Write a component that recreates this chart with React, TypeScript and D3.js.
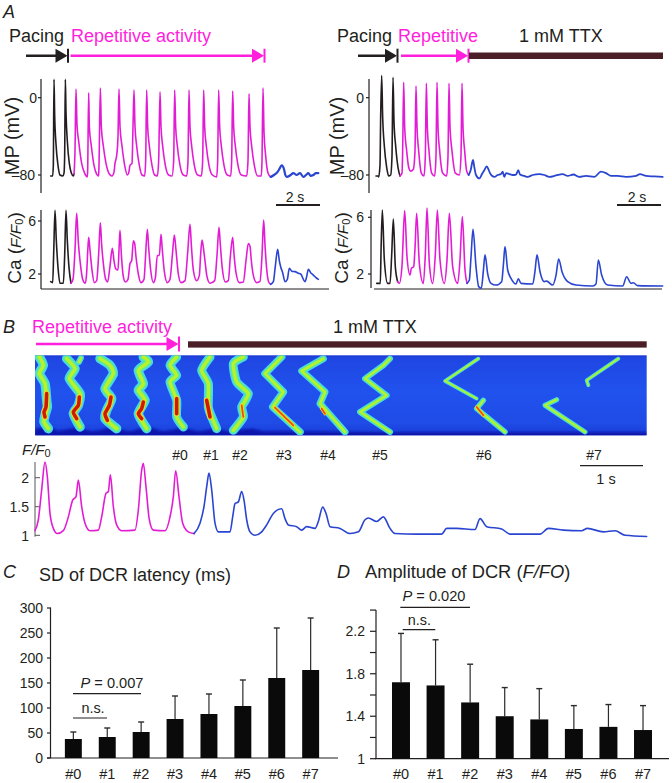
import React from "react";
import * as d3 from "d3";

type P = [number, number];

// ---------- Panel A, left (t in scan lines, 66 lines = 1 s; mV)
const mpLeftBlack: P[] = [[2,-81],[8,-81],[10,-70],[12,19],[14,-18],[18,-48],[24,-70],[30,-80],[38,-81],[42,-78],[44,-60],[46,19],[48,-15],[52,-45],[58,-68],[64,-78],[70,-81],[72,-79]];
const mpLeftMagenta: P[] = [[72,-79],[75,-55],[78,9],[81,-28],[86,-45],[95,-68],[105,-79],[112,-82],[113,-75],[116,5],[118,-30],[124,-50],[132,-70],[140,-79],[146,-81],[147,-70],[151,10],[154,-30],[160,-50],[168,-68],[178,-79],[186,-81],[192,-77],[195,-68],[200,-60],[204,-40],[207,9],[210,-30],[216,-50],[224,-70],[232,-80],[236,-78],[240,-70],[246,-68],[249,-30],[252,8],[255,-30],[260,-50],[268,-70],[276,-80],[284,-81],[287,-65],[290,8],[293,-30],[298,-50],[306,-70],[314,-80],[322,-81],[326,-65],[330,6],[333,-30],[338,-50],[346,-70],[356,-80],[366,-81],[371,-65],[374,8],[377,-30],[382,-50],[390,-70],[400,-80],[410,-81],[414,-65],[417,8],[420,-30],[425,-50],[433,-70],[443,-80],[454,-81],[458,-65],[461,8],[464,-30],[469,-50],[477,-70],[487,-80],[500,-82],[503,-65],[506,8],[509,-30],[514,-50],[522,-70],[532,-80],[542,-81],[545,-65],[548,7],[551,-30],[556,-50],[564,-70],[574,-80],[590,-81],[594,-65],[597,4],[600,-30],[605,-50],[613,-70],[623,-81],[634,-81],[636,-65],[639,10],[642,-35],[647,-60],[654,-78],[662,-82]];
const mpLeftBlue: P[] = [[662,-82],[672,-80],[680,-78],[688,-74],[695,-70],[702,-74],[706,-80],[710,-82],[722,-80],[730,-78],[740,-80],[750,-78],[760,-82],[768,-80],[775,-78],[782,-81],[790,-80],[798,-78],[805,-78]];

const caLeftBlack: P[] = [[2,1.42],[8,1.35],[11,3.5],[15,6.8],[19,4.5],[24,2.5],[30,1.3],[40,1.3],[44,3.4],[48,6.8],[52,4.5],[57,2.5],[63,1.3]];
const caLeftMagenta: P[] = [[63,1.3],[69,1.6],[75,3.8],[80,6.58],[85,4.4],[91,2.8],[98,1.6],[106,1.3],[110,2.1],[113,3.6],[116,4.77],[120,3.8],[126,2.3],[133,1.35],[140,1.5],[146,3.5],[151,5.87],[155,4.2],[160,2.8],[167,1.6],[173,1.4],[180,2.6],[187,3.94],[192,3.0],[197,2.4],[204,2.3],[207,3.8],[210,5.3],[214,3.5],[220,1.8],[226,1.4],[234,1.6],[240,2.8],[245,3.0],[250,4.5],[254,4.3],[258,3.3],[265,2.0],[273,1.35],[282,1.6],[287,3.5],[292,5.37],[296,4.0],[302,2.3],[310,1.35],[316,1.7],[322,3.4],[328,3.4],[333,5.0],[337,3.8],[343,2.2],[352,1.35],[360,1.6],[367,3.4],[373,4.94],[378,3.8],[385,2.0],[393,1.35],[405,1.5],[413,3.6],[420,5.75],[424,4.2],[430,2.3],[440,1.5],[448,1.9],[452,3.5],[456,4.57],[459,4.2],[464,3.2],[471,1.8],[480,1.3],[494,1.5],[501,3.4],[507,5.52],[511,4.2],[517,2.4],[526,1.4],[535,1.5],[541,3.3],[548,4.77],[552,3.5],[558,2.1],[568,1.35],[580,1.4],[588,3.0],[595,4.3],[600,4.1],[604,3.0],[610,1.9],[620,1.35],[630,1.45],[636,3.4],[641,6.07],[645,4.2],[650,2.4],[656,1.4],[662,1.22]];
const caLeftBlue: P[] = [[662,1.22],[670,1.42],[676,2.6],[683,3.86],[688,3.0],[692,2.55],[698,2.1],[705,1.42],[712,1.6],[718,2.43],[726,2.2],[735,2.18],[745,2.05],[752,2.0],[765,1.42],[770,1.8],[775,2.35],[782,2.1],[790,1.92],[797,1.75],[805,1.6]];

// ---------- Panel A, right
const mpRightBlack: P[] = [[0,-81],[6,-81],[8,-82],[12,-70],[14,-20],[17,23],[20,-20],[25,-50],[32,-72],[38,-81],[44,-80],[48,-60],[51,21],[54,-25],[59,-50],[66,-72],[72,-81]];
const mpRightMagenta: P[] = [[72,-81],[78,-78],[80,-55],[83,16],[86,-30],[92,-55],[98,-72],[104,-76],[112,-74],[117,-55],[120,12],[123,-30],[128,-55],[136,-78],[144,-81],[148,-60],[151,15],[154,-30],[159,-55],[167,-78],[176,-81],[180,-60],[183,16],[186,-30],[191,-55],[200,-78],[212,-81],[216,-60],[219,15],[222,-30],[228,-55],[238,-78],[250,-80],[255,-60],[258,15],[261,-30],[266,-55],[272,-76],[278,-80]];
const mpRightBlue: P[] = [[278,-80],[284,-75],[291,-64.5],[295,-72],[300,-80],[310,-83.5],[318,-79],[325,-75],[332,-71],[337,-74],[342,-78],[355,-82],[365,-80],[375,-79],[380,-76.5],[385,-82],[390,-78],[400,-79],[410,-80],[420,-79.5],[427,-75],[432,-79.5],[445,-81],[455,-82],[470,-80],[490,-79],[505,-80],[520,-82],[540,-80.5],[560,-79],[575,-81],[592,-79.5],[610,-82],[630,-81],[655,-82],[675,-76.5],[690,-78],[705,-81],[725,-81],[750,-82],[780,-81],[792,-79],[810,-81],[835,-81.5],[860,-82]];

const caRightBlack: P[] = [[2,1.34],[13,1.34],[15,3.5],[19,6.52],[25,3.0],[35,1.34],[42,1.34],[47,3.3],[52,5.88],[58,2.5],[65,1.46]];
const caRightMagenta: P[] = [[65,1.46],[70,1.34],[78,2.6],[86,6.47],[93,3.22],[102,1.93],[106,2.4],[113,2.52],[117,3.8],[122,6.28],[130,2.75],[142,1.34],[148,3.4],[153,6.66],[160,2.75],[170,1.34],[178,3.4],[184,6.52],[192,2.99],[205,1.34],[213,3.0],[220,6.28],[230,2.52],[245,1.34],[252,3.0],[259,6.05],[267,2.28],[273,1.34]];
const caRightBlue: P[] = [[273,1.34],[280,1.58],[285,3.2],[291,5.15],[300,2.52],[308,1.11],[316,1.0],[322,2.2],[327,3.36],[335,2.03],[345,1.34],[360,1.22],[377,1.46],[382,2.6],[387,3.93],[395,2.28],[405,1.69],[420,1.29],[427,1.67],[435,1.34],[470,1.29],[477,2.2],[483,3.36],[492,2.16],[505,1.46],[512,1.5],[530,1.22],[540,1.9],[548,3.06],[558,2.16],[575,1.46],[600,1.22],[650,1.15],[660,1.3],[667,2.99],[677,1.93],[695,1.22],[740,1.15],[752,1.81],[765,1.34],[772,1.38],[785,1.18],[860,1.15]];

// ---------- Panel B trace (t in lines, 190 lines = 1 s; F/F0)
const fTraceMagenta: P[] = [[0,1.08],[10,1.27],[20,1.79],[30,2.27],[37,2.02],[45,1.38],[55,1.12],[67,1.03],[85,1.08],[100,1.32],[113,1.61],[123,1.67],[130,1.96],[140,1.5],[150,1.21],[165,1.08],[190,1.09],[200,1.32],[213,1.73],[220,1.76],[226,2.05],[235,1.5],[245,1.18],[260,1.08],[300,1.09],[310,1.44],[320,2.13],[325,2.25],[333,1.84],[343,1.27],[355,1.09],[390,1.08],[405,1.32],[415,1.67],[422,2.12],[432,1.67],[443,1.21],[460,1.06],[477,1.03]];
const fTraceBlue: P[] = [[477,1.03],[495,1.21],[507,1.5],[515,1.84],[522,2.08],[530,1.79],[540,1.21],[550,1.06],[585,1.06],[593,1.32],[600,1.55],[610,1.58],[620,1.76],[627,1.61],[635,1.27],[645,1.06],[660,1],[680,1.06],[695,1.18],[715,1.38],[740,1.46],[750,1.29],[760,1.18],[785,1.15],[800,1.09],[815,1.15],[840,1.12],[850,1.24],[863,1.49],[873,1.38],[885,1.15],[915,1.12],[945,1.03],[970,1.06],[990,1.27],[1000,1.3],[1025,1.24],[1045,1.32],[1065,1.12],[1080,1.03],[1145,1.02],[1220,1.02],[1235,1.12],[1265,1.12],[1320,1.1],[1335,1.29],[1355,1.15],[1400,1.11],[1425,1.02],[1515,1.02],[1540,1.12],[1585,1.09],[1640,1.08],[1657,1.12],[1705,1.06],[1740,1.08],[1770,1],[1835,0.98]];

// ---------- Panel B line scan: wave fronts (t in lines, position 0–240)
const waves: P[][] = [
  [[13,5],[25,30],[13,55],[30,85],[35,135],[37,155],[30,180],[27,200],[40,220]],
  [[95,10],[120,40],[103,70],[135,115],[130,150],[115,175],[135,215]],
  [[132,20],[138,8]],
  [[195,10],[225,30],[235,55],[210,100],[230,130],[215,165],[210,190],[245,220]],
  [[325,5],[340,20],[310,45],[325,85],[310,105],[330,135],[310,175],[335,220]],
  [[425,5],[405,30],[425,60],[405,80],[425,135],[425,185],[445,215]],
  [[525,5],[500,45],[520,85],[520,155],[530,185],[545,220]],
  [[625,5],[595,25],[605,80],[640,115],[620,155],[625,185],[595,225]],
  [[740,5],[690,55],[745,110],[713,155],[795,230]],
  [[865,10],[800,47],[870,110],[855,145],[930,230]],
  [[1065,10],[1045,30],[990,70],[1055,120],[975,170],[1065,230]],
  [[1330,10],[1230,77],[1325,130]],
  [[1345,135],[1325,160],[1410,230]],
  [[1565,133],[1530,150],[1650,230]],
  [[1750,10],[1655,75],[1660,90]],
];
const waveWeight = [9.5, 9.5, 6, 9.5, 9.5, 9, 9, 9, 7.5, 7, 6, 3.8, 5.5, 5, 3.8];
const hotSpots: P[][] = [
  [[35,115],[33,155],[27,170],[30,185]],
  [[133,125],[130,150],[115,170],[125,190]],
  [[228,125],[223,150],[210,175],[217,195]],
  [[325,140],[320,160],[310,175],[320,190]],
  [[425,130],[425,175]],
  [[515,135],[525,185]],
  [[620,150],[625,185]],
  [[720,157],[775,210]],
  [[860,160],[870,175]],
  [[1325,155],[1345,180]],
];
const darkBand: P[] = [[0,222],[40,214],[70,226],[130,218],[170,228],[240,216],[280,228],[340,216],[385,228],[445,218],[490,228],[545,220],[580,228],[650,220],[690,228],[760,228],[1100,231],[1835,231]];

// ---------- Panels C, D
const dcrLabels = ["#0","#1","#2","#3","#4","#5","#6","#7"];
const sdMeans = [38,42,52,78,88,104,160,176];
const sdTops = [52,60,72,124,128,156,260,280];
const sdTicks = [0,50,100,150,200,250,300];
const ampMeans = [1.72,1.69,1.53,1.40,1.37,1.28,1.30,1.27];
const ampTops = [2.18,2.12,1.89,1.67,1.66,1.50,1.51,1.50];
const ampMajor = [1,1.4,1.8,2.2];
const ampMinor = [1.2,1.6,2.0,2.4];

const BLK = "#231f20", MAG = "#e21fd4", ARW = "#ff1fdc", BLU = "#2a45d0", TTX = "#4b1f28";
const FONT = "'Liberation Sans', Arial, sans-serif";

const xLeft = d3.scaleLinear().domain([0, 660]).range([50, 270]);
const xRight = d3.scaleLinear().domain([0, 660]).range([376, 596]);
const mpLeftY = d3.scaleLinear().domain([0, -80]).range([97.7, 175]);
const caLeftY = d3.scaleLinear().domain([2, 6]).range([274, 221]);
const caRightY = d3.scaleLinear().domain([2, 6]).range([274, 217.3]);
const xB = d3.scaleLinear().domain([0, 1835]).range([35, 646.7]);
const fY = d3.scaleLinear().domain([1, 2]).range([535.3, 477.7]);
const posY = d3.scaleLinear().domain([0, 240]).range([355.3, 435.3]);
const sdY = d3.scaleLinear().domain([0, 300]).range([758, 608]);
const ampY = d3.scaleLinear().domain([1, 2.2]).range([758.7, 631.3]);
const xC = d3.scaleBand<string>().domain(dcrLabels).range([56.4, 327.6]).paddingInner(0.5).paddingOuter(0.25);
const xD = d3.scaleBand<string>().domain(dcrLabels).range([383.7, 660.3]).paddingInner(0.48).paddingOuter(0.24);

const path = (x: any, y: any, d: P[], curve: any = d3.curveMonotoneX) =>
  d3.line<P>().x(p => x(p[0])).y(p => y(p[1])).curve(curve)(d) || "";
const waveCurve = (i: number) => (i < 8 ? d3.curveCardinal.tension(0.4) : d3.curveLinear);

function Tr({ x, y, d, c, w = 1.6 }: any) {
  return <path d={path(x, y, d)} fill="none" stroke={c} strokeWidth={w} strokeLinejoin="round" strokeLinecap="round" filter="url(#tr)" />;
}
function L({ x1, x2, y1, y2, c = BLK, w = 1.2 }: any) {
  return <line x1={x1} x2={x2} y1={y1} y2={y2} stroke={c} strokeWidth={w} />;
}
function T({ x, y, s = 14, a = "start", c = BLK, it, children, rot }: any) {
  return (
    <text x={x} y={y} fontSize={s} textAnchor={a} fill={c} fontStyle={it ? "italic" : undefined} fontFamily={FONT}
      transform={rot ? `rotate(${rot} ${x} ${y})` : undefined}>{children}</text>
  );
}
function Arrow({ x1, x2, y, c, w = 2.4, tickH = 14 }: any) {
  return (
    <g>
      <line x1={x1} x2={x2 - 6} y1={y} y2={y} stroke={c} strokeWidth={w} />
      <polygon points={`${x2 - 12},${y - 7} ${x2},${y} ${x2 - 12},${y + 7}`} fill={c} />
      <line x1={x2 + 0.5} x2={x2 + 0.5} y1={y - tickH / 2} y2={y + tickH / 2} stroke={c} strokeWidth={2} />
    </g>
  );
}
function CaLabel({ x, y }: { x: number; y: number }) {
  return (
    <text x={x} y={y} fontSize={19} textAnchor="middle" fill={BLK} fontFamily={FONT} transform={`rotate(-90 ${x} ${y})`}>
      Ca (<tspan fontStyle="italic" fontSize={15.5}>F/F</tspan><tspan fontSize={11} dy={2}>0</tspan><tspan dy={-2}>)</tspan>
    </text>
  );
}
function Bars({ x, y, base, means, tops }: any) {
  return (
    <g>
      {dcrLabels.map((l, i) => {
        const cx = x(l) + x.bandwidth() / 2;
        return (
          <g key={l}>
            <line x1={cx} x2={cx} y1={y(means[i])} y2={y(tops[i])} stroke="#2b2b2b" strokeWidth={1.2} />
            <line x1={cx - 3} x2={cx + 3} y1={y(tops[i])} y2={y(tops[i])} stroke="#2b2b2b" strokeWidth={1.4} />
            <rect x={x(l)} width={x.bandwidth()} y={y(means[i])} height={y(base) - y(means[i])} fill="#0a0a0a" />
            <T x={cx} y={779} s={14.5} a="middle">{l}</T>
          </g>
        );
      })}
    </g>
  );
}

export default function App() {
  return (
    <svg width={672} height={783} style={{ position: "absolute", left: 0, top: 0, background: "#fff" }}>
      <defs>
        <linearGradient id="heat" x1="0" x2="0" y1="0" y2="1">
          <stop offset="0" stopColor="#1c3ad4" />
          <stop offset="0.04" stopColor="#1f46e2" />
          <stop offset="0.45" stopColor="#2152ee" />
          <stop offset="0.85" stopColor="#1f4be6" />
          <stop offset="1" stopColor="#1a3cd8" />
        </linearGradient>
        <filter id="tr" x="-5%" y="-5%" width="110%" height="110%"><feGaussianBlur stdDeviation="0.3" /></filter>
        <filter id="soft" x="-5%" y="-5%" width="110%" height="110%"><feGaussianBlur stdDeviation="0.7" /></filter>
        <filter id="softer" x="-5%" y="-20%" width="110%" height="140%"><feGaussianBlur stdDeviation="0.8" /></filter>
        <clipPath id="heatClip"><rect x={35} y={355.3} width={611.7} height={80} /></clipPath>
      </defs>

      {/* Panel A */}
      <T x={3} y={18} s={18} it>A</T>
      <T x={9} y={42} s={18}>Pacing</T>
      <T x={71} y={42} s={18} c={ARW}>Repetitive activity</T>
      <Arrow x1={26} x2={67.5} y={55.7} c={BLK} />
      <Arrow x1={70.5} x2={264} y={55.7} c={ARW} />

      <L x1={41} x2={41} y1={79} y2={193} />
      <L x1={38} x2={41} y1={97.7} y2={97.7} />
      <L x1={38} x2={41} y1={175} y2={175} />
      <T x={37} y={102.5} s={14} a="end">0</T>
      <T x={35} y={180} s={14} a="end">–80</T>
      <T x={18.5} y={136} s={20} a="middle" rot={-90}>MP (mV)</T>
      <Tr x={xLeft} y={mpLeftY} d={mpLeftBlack} c={BLK} />
      <Tr x={xLeft} y={mpLeftY} d={mpLeftMagenta} c={MAG} />
      <Tr x={xLeft} y={mpLeftY} d={mpLeftBlue} c={BLU} w={2.2} />
      <L x1={276} x2={320} y1={205} y2={205} w={2} />
      <T x={295} y={201.5} s={14} a="middle">2 s</T>

      <L x1={41} x2={41} y1={210} y2={289} />
      <L x1={41} x2={329} y1={289} y2={289} />
      <L x1={38} x2={41} y1={221} y2={221} />
      <L x1={38} x2={41} y1={274} y2={274} />
      <T x={36} y={226} s={14} a="end">6</T>
      <T x={36} y={279} s={14} a="end">2</T>
      <CaLabel x={20.5} y={248} />
      <Tr x={xLeft} y={caLeftY} d={caLeftBlack} c={BLK} />
      <Tr x={xLeft} y={caLeftY} d={caLeftMagenta} c={MAG} />
      <Tr x={xLeft} y={caLeftY} d={caLeftBlue} c={BLU} />

      <T x={337} y={42} s={18}>Pacing</T>
      <T x={398} y={42} s={18} c={ARW}>Repetitive</T>
      <T x={519} y={42} s={18}>1 mM TTX</T>
      <Arrow x1={358} x2={397} y={55.7} c={BLK} />
      <Arrow x1={401} x2={468} y={55.7} c={ARW} />
      <rect x={469} y={52.5} width={194} height={6.5} fill={TTX} />

      <L x1={369} x2={369} y1={79} y2={193} />
      <L x1={366} x2={369} y1={97.7} y2={97.7} />
      <L x1={366} x2={369} y1={175} y2={175} />
      <T x={364} y={102.5} s={14} a="end">0</T>
      <T x={364} y={180} s={14} a="end">–80</T>
      <T x={344} y={136} s={20} a="middle" rot={-90}>MP (mV)</T>
      <Tr x={xRight} y={mpLeftY} d={mpRightBlack} c={BLK} />
      <Tr x={xRight} y={mpLeftY} d={mpRightMagenta} c={MAG} />
      <Tr x={xRight} y={mpLeftY} d={mpRightBlue} c={BLU} w={1.8} />
      <L x1={617} x2={661} y1={205} y2={205} w={2} />
      <T x={637} y={201.5} s={14} a="middle">2 s</T>

      <L x1={371} x2={371} y1={210} y2={288} />
      <L x1={374} x2={662} y1={289} y2={289} />
      <L x1={368} x2={371} y1={217.3} y2={217.3} />
      <L x1={368} x2={371} y1={274} y2={274} />
      <T x={364} y={222} s={14} a="end">6</T>
      <T x={364} y={279} s={14} a="end">2</T>
      <CaLabel x={348} y={248} />
      <Tr x={xRight} y={caRightY} d={caRightBlack} c={BLK} />
      <Tr x={xRight} y={caRightY} d={caRightMagenta} c={MAG} />
      <Tr x={xRight} y={caRightY} d={caRightBlue} c={BLU} />

      {/* Panel B */}
      <T x={3} y={333} s={18} it>B</T>
      <T x={32} y={333} s={18} c={ARW}>Repetitive activity</T>
      <T x={333} y={333} s={18}>1 mM TTX</T>
      <Arrow x1={36} x2={178.5} y={344} c={ARW} tickH={15} />
      <rect x={188} y={341.3} width={458.7} height={6.3} fill={TTX} />

      <rect x={35} y={355.3} width={611.7} height={80} fill="url(#heat)" />
      <g clipPath="url(#heatClip)">
        <path filter="url(#softer)" fill="#0a16ac"
          d={d3.area<P>().x(p => xB(p[0])).y0(posY(250)).y1(p => posY(p[1])).curve(d3.curveMonotoneX)(darkBand) || ""} />
        <g filter="url(#soft)">
          {waves.map((w, i) => (
            <path key={"o" + i} d={path(xB, posY, w, waveCurve(i))} fill="none" stroke="#48d4f0" strokeWidth={waveWeight[i]} strokeLinejoin="round" strokeLinecap="round" />
          ))}
          {waves.map((w, i) => (
            <path key={"m" + i} d={path(xB, posY, w, waveCurve(i))} fill="none" stroke="#62ec88" strokeWidth={waveWeight[i] * 0.68} strokeLinejoin="round" strokeLinecap="round" />
          ))}
          {waves.map((w, i) => (
            <path key={"c" + i} d={path(xB, posY, w, waveCurve(i))} fill="none" stroke="#b8f22c" strokeWidth={waveWeight[i] * 0.36} strokeLinejoin="round" strokeLinecap="round" />
          ))}
          {hotSpots.map((w, i) => (
            <path key={"y" + i} d={path(xB, posY, w, d3.curveCardinal.tension(0.4))} fill="none" stroke="#f8d818" strokeWidth={i > 5 ? 3.4 : 5.6} strokeLinejoin="round" strokeLinecap="round" />
          ))}
          {hotSpots.map((w, i) => (
            <path key={"r" + i} d={path(xB, posY, w, d3.curveCardinal.tension(0.4))} fill="none" stroke={i > 5 ? "#e8501a" : "#cc1c04"} strokeWidth={i > 5 ? 1.8 : 3.6} strokeLinejoin="round" strokeLinecap="round" />
          ))}
        </g>
      </g>

      {dcrLabels.map((l, i) => (
        <T key={l} x={[180, 211, 240, 284, 328, 380, 484, 594][i]} y={460} s={14} a="middle">{l}</T>
      ))}
      <L x1={580} x2={643} y1={465.7} y2={465.7} />
      <T x={606} y={484} s={14.5} a="middle">1 s</T>
      <text x={22} y={455} fontSize={15} fill={BLK} fontFamily={FONT}>
        <tspan fontStyle="italic">F/F</tspan><tspan fontSize={11} dy={2}>0</tspan>
      </text>
      <L x1={35} x2={35} y1={462} y2={536.7} w={1} c="#555" />
      <L x1={35} x2={40} y1={535.3} y2={535.3} w={1} c="#555" />
      <L x1={35} x2={40} y1={477.7} y2={477.7} w={1} c="#555" />
      <L x1={35} x2={40} y1={506.7} y2={506.7} w={1} c="#555" />
      <T x={29} y={483} s={14} a="end">2</T>
      <T x={29} y={512} s={14} a="end">1.5</T>
      <T x={29} y={541} s={14} a="end">1</T>
      <Tr x={xB} y={fY} d={fTraceMagenta} c={MAG} />
      <Tr x={xB} y={fY} d={fTraceBlue} c={BLU} />

      {/* Panel C */}
      <T x={3} y={578} s={18} it>C</T>
      <T x={39} y={581} s={18}>SD of DCR latency (ms)</T>
      <L x1={50.5} x2={50.5} y1={607.5} y2={758} />
      <L x1={47} x2={338} y1={758} y2={758} />
      {sdTicks.map(v => (
        <g key={v}>
          <L x1={47} x2={50.5} y1={sdY(v)} y2={sdY(v)} />
          <T x={43} y={sdY(v) + 5} s={14} a="end">{v}</T>
        </g>
      ))}
      <Bars x={xC} y={sdY} base={0} means={sdMeans} tops={sdTops} />
      <L x1={73} x2={141} y1={693.7} y2={693.7} />
      <text x={112} y={687.7} fontSize={14.6} textAnchor="middle" fill={BLK} fontFamily={FONT}>
        <tspan fontStyle="italic">P</tspan> = 0.007
      </text>
      <L x1={73} x2={107} y1={718} y2={718} />
      <T x={93} y={713} s={14.4} a="middle">n.s.</T>

      {/* Panel D */}
      <T x={337} y={578} s={18} it>D</T>
      <text x={365} y={578} fontSize={18.3} fill={BLK} fontFamily={FONT}>
        Amplitude of DCR (<tspan fontStyle="italic">F/FO</tspan>)
      </text>
      <L x1={376} x2={376} y1={610} y2={758.7} />
      <L x1={375} x2={669} y1={758.7} y2={758.7} />
      {ampMajor.concat(ampMinor).map(v => (
        <L key={v} x1={370} x2={376} y1={ampY(v)} y2={ampY(v)} />
      ))}
      {ampMajor.map(v => (
        <T key={v} x={365} y={ampY(v) + 5} s={14} a="end">{v === 1 ? "1" : v.toFixed(1)}</T>
      ))}
      <Bars x={xD} y={ampY} base={1} means={ampMeans} tops={ampTops} />
      <L x1={400.3} x2={470} y1={607.3} y2={607.3} />
      <text x={434} y={600.7} fontSize={14.6} textAnchor="middle" fill={BLK} fontFamily={FONT}>
        <tspan fontStyle="italic">P</tspan> = 0.020
      </text>
      <L x1={402.7} x2={435.3} y1={629.7} y2={629.7} />
      <T x={419.3} y={625} s={14.4} a="middle">n.s.</T>
    </svg>
  );
}
